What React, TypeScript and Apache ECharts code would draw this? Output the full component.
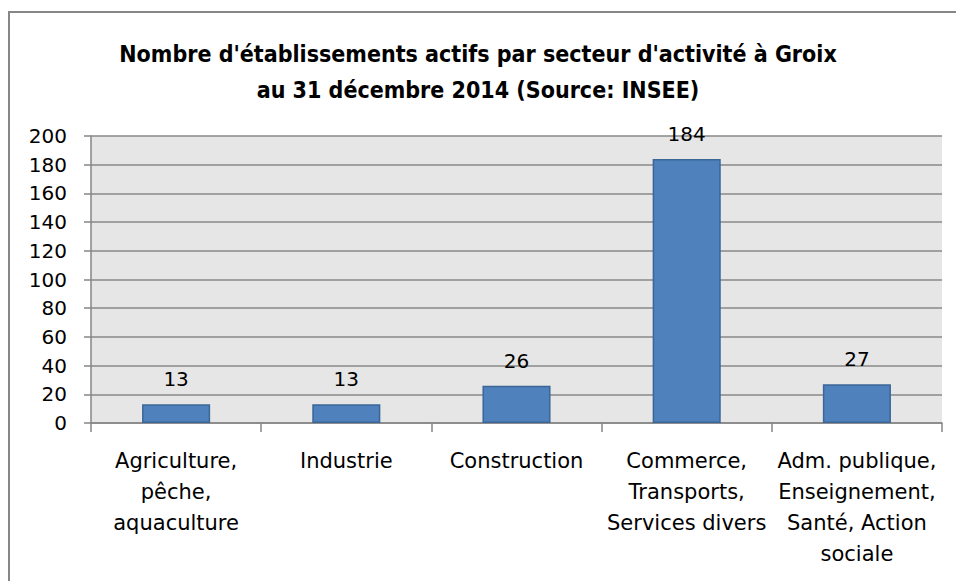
import React, { useEffect, useRef } from "react";
import * as echarts from "echarts";

const TITLE_LINES = [
  "Nombre d'établissements actifs par secteur d'activité à Groix",
  "au 31 décembre 2014 (Source: INSEE)",
];
const categories = [
  "Agriculture,\npêche,\naquaculture",
  "Industrie",
  "Construction",
  "Commerce,\nTransports,\nServices divers",
  "Adm. publique,\nEnseignement,\nSanté, Action\nsociale",
];
const values = [13, 13, 26, 184, 27];
const yMin = 0;
const yMax = 200;
const yStep = 20;

export default function App() {
  const ref = useRef<HTMLDivElement>(null);
  useEffect(() => {
    document.body.style.margin = "0";
    const chart = echarts.init(ref.current!, null, { renderer: "svg" });
    const axisFont = "DejaVu Sans";
    chart.setOption({
      animation: false,
      backgroundColor: "#ffffff",
      title: {
        text: TITLE_LINES.join("\n"),
        left: "center",
        top: 31,
        textStyle: {
          fontFamily: "DejaVu Sans Condensed",
          fontWeight: "bold",
          fontSize: 23,
          lineHeight: 36,
          color: "#000000",
        },
      },
      graphic: [
        {
          type: "rect",
          shape: { x: 9, y: 12, width: 1000, height: 700 },
          style: { fill: "none", stroke: "#878787", lineWidth: 2 },
          silent: true,
          z: 100,
        },
      ],
      grid: {
        left: 91,
        right: 14,
        top: 136,
        bottom: 158,
        show: true,
        backgroundColor: "#e6e6e6",
        borderWidth: 0,
      },
      xAxis: {
        type: "category",
        data: categories,
        axisLine: { show: true, lineStyle: { color: "#868686", width: 1.5 } },
        axisTick: { show: true, length: 9, lineStyle: { color: "#868686", width: 1.5 } },
        axisLabel: {
          interval: 0,
          margin: 22,
          fontFamily: axisFont,
          fontSize: 21,
          lineHeight: 31,
          color: "#000000",
          align: "center",
        },
      },
      yAxis: {
        type: "value",
        min: yMin,
        max: yMax,
        interval: yStep,
        axisLine: { show: true, lineStyle: { color: "#868686", width: 1.5 } },
        axisTick: { show: true, length: 7, lineStyle: { color: "#868686", width: 1.5 } },
        splitLine: { show: true, lineStyle: { color: "#888888", width: 1.5 } },
        axisLabel: {
          margin: 24,
          fontFamily: axisFont,
          fontSize: 20,
          color: "#000000",
        },
      },
      series: [
        {
          type: "bar",
          data: values,
          barWidth: "40%",
          itemStyle: {
            color: "#4f81bd",
            borderColor: "#3b6697",
            borderWidth: 1.5,
          },
          label: {
            show: true,
            position: "top",
            distance: 15,
            fontFamily: axisFont,
            fontSize: 20,
            color: "#000000",
          },
        },
      ],
    });
    return () => chart.dispose();
  }, []);
  return (
    <div
      ref={ref}
      style={{ position: "absolute", left: 0, top: 0, width: 956, height: 581 }}
    />
  );
}
